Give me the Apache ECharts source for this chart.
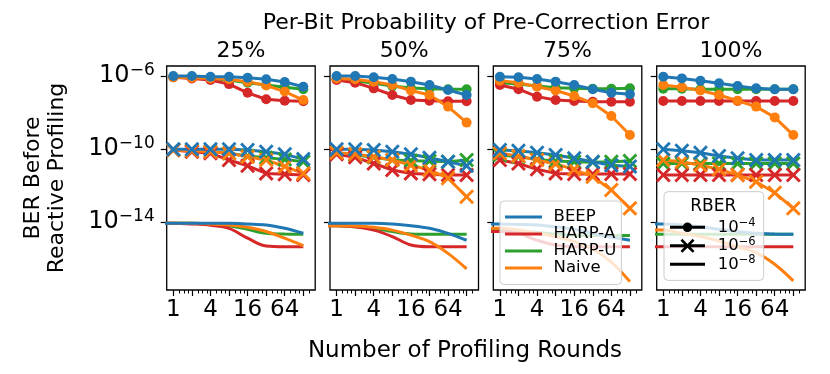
<!DOCTYPE html>
<html><head><meta charset="utf-8">
<script src="https://cdn.jsdelivr.net/npm/echarts@6/dist/echarts.min.js"></script>
<style>html,body{margin:0;padding:0;background:#fff}#c{width:830px;height:374px}</style>
</head><body><div id="c"></div>
<script>
// ---------- data ----------
const rounds = [1, 2, 4, 8, 16, 32, 64, 128];
const roundsCurve = [0.5, 1, 2, 4, 8, 16, 32, 64, 128];
const panels = ['25%', '50%', '75%', '100%'];
const methods = ['BEEP', 'HARP-A', 'HARP-U', 'Naive'];
const rberNames = ['r4', 'r6', 'r8'];
const rberExps = ['−4', '−6', '−8'];
const xMajorTicks = [1, 2, 4, 8, 16, 32, 64, 128];
const xTickLabels = [1, 4, 16, 64];
const xMinorTicks = [1.25, 1.5, 1.75, 2.5, 3, 3.5, 5, 6, 7, 10, 12, 14, 20, 24, 28, 40, 48, 56, 80, 96, 112, 160];
const yTickValues = [1e-6, 1e-10, 1e-14];
const yTickExps = ['−6', '−10', '−14'];

// 25%
const beep25_r4  = [1.0e-6, 1.0e-6, 9.2e-7, 9.2e-7, 8.1e-7, 6.6e-7, 4.7e-7, 2.6e-7];
const harpa25_r4 = [8.5e-7, 7.4e-7, 6.0e-7, 3.6e-7, 1.2e-7, 5.3e-8, 4.4e-8, 4.1e-8];
const harpu25_r4 = [8.5e-7, 8.1e-7, 7.1e-7, 6.0e-7, 4.3e-7, 3.2e-7, 2.4e-7, 1.9e-7];
const naive25_r4 = [8.5e-7, 8.1e-7, 7.4e-7, 6.6e-7, 4.9e-7, 3.0e-7, 1.4e-7, 4.8e-8];
const beep25_r6  = [9.6e-11, 9.6e-11, 9.6e-11, 9.6e-11, 8.8e-11, 7.1e-11, 5.1e-11, 2.8e-11];
const harpa25_r6 = [8.8e-11, 7.1e-11, 5.8e-11, 2.5e-11, 1.2e-11, 4.6e-12, 4.1e-12, 3.8e-12];
const harpu25_r6 = [8.8e-11, 8.1e-11, 7.1e-11, 5.8e-11, 4.1e-11, 3.3e-11, 2.7e-11, 2.0e-11];
const naive25_r6 = [8.8e-11, 8.1e-11, 7.1e-11, 5.8e-11, 3.8e-11, 2.5e-11, 1.1e-11, 4.6e-12];
const beep25_r8  = [8.5e-15, 8.5e-15, 8.5e-15, 8.5e-15, 8.5e-15, 7.8e-15, 6.9e-15, 4.5e-15, 2.4e-15];
const harpa25_r8 = [8.5e-15, 8.5e-15, 7.8e-15, 6.6e-15, 4.5e-15, 1.3e-15, 4.8e-16, 4.4e-16, 4.4e-16];
const harpu25_r8 = [8.5e-15, 8.5e-15, 8.5e-15, 7.8e-15, 6.3e-15, 4.0e-15, 2.4e-15, 2.2e-15, 2.1e-15];
const naive25_r8 = [8.5e-15, 8.5e-15, 8.5e-15, 7.8e-15, 6.9e-15, 5.1e-15, 3.0e-15, 1.3e-15, 5.0e-16];
// 50%
const beep50_r4  = [1.0e-6, 1.0e-6, 8.5e-7, 6.9e-7, 4.9e-7, 3.2e-7, 1.7e-7, 9.1e-8];
const harpa50_r4 = [6.0e-7, 4.3e-7, 2.1e-7, 9.1e-8, 4.8e-8, 4.4e-8, 4.1e-8, 4.1e-8];
const harpu50_r4 = [6.6e-7, 5.5e-7, 4.0e-7, 2.8e-7, 2.2e-7, 2.0e-7, 1.9e-7, 1.9e-7];
const naive50_r4 = [7.4e-7, 6.6e-7, 4.9e-7, 3.2e-7, 1.6e-7, 9.1e-8, 2.1e-8, 2.8e-9];
const beep50_r6  = [9.6e-11, 9.6e-11, 8.8e-11, 7.1e-11, 5.1e-11, 3.3e-11, 2.0e-11, 1.2e-11];
const harpa50_r6 = [5.1e-11, 3.5e-11, 1.6e-11, 7.1e-12, 4.6e-12, 4.1e-12, 3.8e-12, 3.8e-12];
const harpu50_r6 = [5.8e-11, 4.7e-11, 3.5e-11, 2.5e-11, 2.3e-11, 2.2e-11, 2.0e-11, 2.5e-11];
const naive50_r6 = [6.3e-11, 5.3e-11, 3.8e-11, 2.5e-11, 1.3e-11, 7.1e-12, 2.5e-12, 2.4e-13];
const beep50_r8  = [8.5e-15, 8.5e-15, 8.5e-15, 8.5e-15, 7.8e-15, 6.3e-15, 4.5e-15, 2.4e-15, 1.0e-15];
const harpa50_r8 = [6.3e-15, 6.3e-15, 5.5e-15, 3.6e-15, 1.6e-15, 5.5e-16, 4.4e-16, 4.4e-16, 4.4e-16];
const harpu50_r8 = [6.3e-15, 6.3e-15, 5.5e-15, 4.5e-15, 3.0e-15, 2.2e-15, 2.1e-15, 2.1e-15, 2.1e-15];
const naive50_r8 = [6.3e-15, 6.3e-15, 6.0e-15, 5.1e-15, 3.6e-15, 1.9e-15, 8.4e-16, 1.9e-16, 2.7e-17];
// 75%
const beep75_r4  = [9.2e-7, 8.5e-7, 6.9e-7, 4.9e-7, 3.2e-7, 1.9e-7, 1.2e-7, 9.9e-8];
const harpa75_r4 = [3.2e-7, 1.9e-7, 7.4e-8, 4.8e-8, 4.3e-8, 3.9e-8, 3.9e-8, 3.9e-8];
const harpu75_r4 = [4.3e-7, 3.6e-7, 2.8e-7, 2.3e-7, 2.1e-7, 2.0e-7, 2.0e-7, 2.1e-7];
const naive75_r4 = [5.5e-7, 4.3e-7, 2.6e-7, 1.6e-7, 8.0e-8, 3.2e-8, 6.4e-9, 5.8e-10];
const beep75_r6  = [8.8e-11, 8.1e-11, 6.3e-11, 4.7e-11, 3.1e-11, 2.0e-11, 1.3e-11, 1.1e-11];
const harpa75_r6 = [2.5e-11, 1.6e-11, 7.7e-12, 4.6e-12, 4.3e-12, 4.3e-12, 4.3e-12, 4.3e-12];
const harpu75_r6 = [4.7e-11, 3.8e-11, 2.7e-11, 2.2e-11, 2.0e-11, 1.9e-11, 2.0e-11, 2.2e-11];
const naive75_r6 = [5.8e-11, 4.1e-11, 2.5e-11, 1.5e-11, 7.7e-12, 3.0e-12, 5.7e-13, 5.6e-14];
const beep75_r8  = [7.8e-15, 7.8e-15, 7.4e-15, 6.9e-15, 5.5e-15, 4.0e-15, 2.4e-15, 1.45e-15, 1.0e-15];
const harpa75_r8 = [3.0e-15, 3.0e-15, 2.4e-15, 1.0e-15, 5.5e-16, 4.4e-16, 4.4e-16, 4.4e-16, 4.4e-16];
const harpu75_r8 = [3.6e-15, 3.6e-15, 3.2e-15, 2.7e-15, 2.2e-15, 1.9e-15, 1.8e-15, 1.8e-15, 1.8e-15];
const naive75_r8 = [4.5e-15, 4.5e-15, 3.6e-15, 2.4e-15, 1.6e-15, 8.4e-16, 3.2e-16, 6.4e-17, 5.4e-18];
// 100%
const beep100_r4  = [9.2e-7, 7.4e-7, 5.5e-7, 4.0e-7, 2.8e-7, 2.1e-7, 1.9e-7, 1.9e-7];
const harpa100_r4 = [4.3e-8, 4.3e-8, 4.3e-8, 4.3e-8, 4.3e-8, 4.3e-8, 4.3e-8, 4.3e-8];
const harpu100_r4 = [2.0e-7, 2.0e-7, 1.9e-7, 1.9e-7, 1.9e-7, 1.9e-7, 1.9e-7, 1.9e-7];
const naive100_r4 = [3.2e-7, 2.4e-7, 1.6e-7, 9.1e-8, 4.4e-8, 2.1e-8, 5.4e-9, 5.8e-10];
const beep100_r6  = [9.6e-11, 8.1e-11, 6.3e-11, 4.1e-11, 3.1e-11, 2.5e-11, 2.5e-11, 2.5e-11];
const harpa100_r6 = [3.8e-12, 3.8e-12, 3.8e-12, 3.8e-12, 3.8e-12, 3.8e-12, 3.8e-12, 3.8e-12];
const harpu100_r6 = [1.6e-11, 1.6e-11, 1.6e-11, 1.6e-11, 1.6e-11, 1.6e-11, 1.6e-11, 1.6e-11];
const naive100_r6 = [2.5e-11, 2.0e-11, 1.3e-11, 7.7e-12, 3.8e-12, 1.6e-12, 4.0e-13, 5.6e-14];
const beep100_r8  = [7.8e-15, 7.8e-15, 6.9e-15, 5.5e-15, 4.0e-15, 3.0e-15, 2.4e-15, 2.2e-15, 2.1e-15];
const harpa100_r8 = [4.4e-16, 4.4e-16, 4.4e-16, 4.4e-16, 4.4e-16, 4.4e-16, 4.4e-16, 4.4e-16, 4.4e-16];
const harpu100_r8 = [2.1e-15, 2.1e-15, 2.1e-15, 2.1e-15, 2.1e-15, 2.1e-15, 2.1e-15, 2.1e-15, 2.1e-15];
const naive100_r8 = [3.6e-15, 3.6e-15, 2.4e-15, 1.6e-15, 9.1e-16, 4.4e-16, 2.1e-16, 4.8e-17, 5.9e-18];

// ---------- assembly ----------
const DATA = {
  '25%':  { 'BEEP': [beep25_r4, beep25_r6, beep25_r8], 'HARP-A': [harpa25_r4, harpa25_r6, harpa25_r8], 'HARP-U': [harpu25_r4, harpu25_r6, harpu25_r8], 'Naive': [naive25_r4, naive25_r6, naive25_r8] },
  '50%':  { 'BEEP': [beep50_r4, beep50_r6, beep50_r8], 'HARP-A': [harpa50_r4, harpa50_r6, harpa50_r8], 'HARP-U': [harpu50_r4, harpu50_r6, harpu50_r8], 'Naive': [naive50_r4, naive50_r6, naive50_r8] },
  '75%':  { 'BEEP': [beep75_r4, beep75_r6, beep75_r8], 'HARP-A': [harpa75_r4, harpa75_r6, harpa75_r8], 'HARP-U': [harpu75_r4, harpu75_r6, harpu75_r8], 'Naive': [naive75_r4, naive75_r6, naive75_r8] },
  '100%': { 'BEEP': [beep100_r4, beep100_r6, beep100_r8], 'HARP-A': [harpa100_r4, harpa100_r6, harpa100_r8], 'HARP-U': [harpu100_r4, harpu100_r6, harpu100_r8], 'Naive': [naive100_r4, naive100_r6, naive100_r8] }
};
const COLORS = { 'BEEP': '#1f77b4', 'HARP-A': '#d62728', 'HARP-U': '#2ca02c', 'Naive': '#ff7f0e' };
const drawOrder = ['HARP-U', 'HARP-A', 'Naive', 'BEEP'];
const FONT = 'DejaVu Sans';
const X_SYMBOL = 'path://M0,1.9L1.9,0L7,5.1L12.1,0L14,1.9L8.9,7L14,12.1L12.1,14L7,8.9L1.9,14L0,12.1L5.1,7Z';
const CORNERS = 'M0,0L0.01,0L0,0.01Z M35,14L34.99,14L35,13.99Z ';
const LINE_RECT = 'M0,5.5L35,5.5L35,8.5L0,8.5Z ';
const RBER_ICONS = [
  'path://' + CORNERS + LINE_RECT + 'M12.7,7A4.8,4.8,0,1,1,22.3,7A4.8,4.8,0,1,1,12.7,7Z',
  'path://' + CORNERS + LINE_RECT + 'M10.5,1.9L12.4,0L17.5,5.1L22.6,0L24.5,1.9L19.4,7L24.5,12.1L22.6,14L17.5,8.9L12.4,14L10.5,12.1L15.6,7Z',
  'path://' + CORNERS + LINE_RECT
];

const GRID_LEFTS = [166.7, 330, 493.3, 656.7];
const GRID_W = 148.5, GRID_TOP = 66, GRID_H = 224;
const X_MIN = Math.pow(2, -0.355), X_MAX = Math.pow(2, 7.64);
const Y_MIN = Math.pow(10, -17.726), Y_MAX = Math.pow(10, -5.452);

const grids = [], xAxes = [], yAxes = [], series = [];
panels.forEach((p, gi) => {
  grids.push({ left: GRID_LEFTS[gi], top: GRID_TOP, width: GRID_W, height: GRID_H, show: true,
    borderColor: '#000', borderWidth: 1.3, backgroundColor: 'transparent', containLabel: false, outerBoundsMode: 'none' });
  xAxes.push({ gridIndex: gi, type: 'log', logBase: 2, min: X_MIN, max: X_MAX, position: 'bottom',
    axisLine: { show: false },
    axisTick: { show: true, length: 6, lineStyle: { color: '#000', width: 1.2 }, customValues: xMajorTicks },
    axisLabel: { show: true, customValues: xTickLabels, margin: 9, color: '#000', fontSize: 23, fontFamily: FONT,
      formatter: v => { let best = 0; xTickLabels.forEach((t, i) => { if (Math.abs(Math.log2(t) - Math.log2(v)) < Math.abs(Math.log2(xTickLabels[best]) - Math.log2(v))) best = i; }); return String(xTickLabels[best]); } },
    splitLine: { show: false }, minorTick: { show: false } });
  xAxes.push({ gridIndex: gi, type: 'log', logBase: 2, min: X_MIN, max: X_MAX, position: 'top', offset: -GRID_H,
    axisLine: { show: false },
    axisTick: { show: true, inside: true, length: 3.5, lineStyle: { color: '#000', width: 1 }, customValues: xMinorTicks },
    axisLabel: { show: false }, splitLine: { show: false } });
  yAxes.push({ gridIndex: gi, type: 'log', logBase: 10, min: Y_MIN, max: Y_MAX,
    axisLine: { show: false },
    axisTick: { show: true, length: 6, lineStyle: { color: '#000', width: 1.2 }, customValues: yTickValues },
    axisLabel: { show: gi === 0, customValues: yTickValues, margin: 12, color: '#000',
      formatter: v => { let best = 0; yTickValues.forEach((t, i) => { if (Math.abs(Math.log10(t) - Math.log10(v)) < Math.abs(Math.log10(yTickValues[best]) - Math.log10(v))) best = i; }); return '{b|10}{s|' + yTickExps[best] + '}'; },
      rich: { b: { fontSize: 24, fontFamily: FONT, color: '#000', lineHeight: 28 },
              s: { fontSize: 17, fontFamily: FONT, color: '#000', lineHeight: 13, verticalAlign: 'top' } } },
    splitLine: { show: false }, minorTick: { show: false } });

  drawOrder.forEach(m => {
    const arrs = DATA[p][m];
    const c = COLORS[m];
    series.push({ type: 'line', name: m, xAxisIndex: gi * 2, yAxisIndex: gi, color: c,
      data: rounds.map((x, i) => [x, arrs[0][i]]), symbol: 'circle', symbolSize: 10, showAllSymbol: true,
      lineStyle: { width: 3, color: c }, itemStyle: { color: c, borderWidth: 0 }, silent: true });
    series.push({ type: 'line', name: m, xAxisIndex: gi * 2, yAxisIndex: gi, color: c,
      data: rounds.map((x, i) => [x, arrs[1][i]]), symbol: X_SYMBOL, symbolSize: 15, showAllSymbol: true,
      lineStyle: { width: 3, color: c }, itemStyle: { color: c, borderWidth: 0 }, silent: true });
    series.push({ type: 'line', name: m, xAxisIndex: gi * 2, yAxisIndex: gi, color: c,
      data: roundsCurve.map((x, i) => [x, arrs[2][i]]), symbol: 'none', smooth: 0.35,
      lineStyle: { width: 3, color: c }, itemStyle: { color: c }, silent: true });
  });
});
// dummy series for the RBER legend
rberNames.forEach(n => series.push({ type: 'line', name: n, xAxisIndex: 6, yAxisIndex: 3, data: [], color: '#000',
  itemStyle: { color: '#000' }, lineStyle: { color: '#000', width: 3 } }));

const graphics = [
  { type: 'text', x: 486, y: 23, z: 100, style: { text: 'Per-Bit Probability of Pre-Correction Error', fontSize: 22, fontFamily: FONT, fill: '#000', align: 'center', verticalAlign: 'middle' } },
  { type: 'text', x: 465, y: 351, z: 100, style: { text: 'Number of Profiling Rounds', fontSize: 23, fontFamily: FONT, fill: '#000', align: 'center', verticalAlign: 'middle' } },
  { type: 'text', x: 45, y: 178, z: 100, rotation: Math.PI / 2, style: { text: 'BER Before\nReactive Profiling', fontSize: 22, lineHeight: 24, fontFamily: FONT, fill: '#000', align: 'center', verticalAlign: 'middle' } },
  { type: 'text', x: 713.3, y: 207, z: 100, style: { text: 'RBER', fontSize: 17, fontFamily: FONT, fill: '#000', align: 'center', verticalAlign: 'middle' } }
];
panels.forEach((p, gi) => graphics.push({ type: 'text', x: GRID_LEFTS[gi] + GRID_W / 2, y: 51, z: 100,
  style: { text: p, fontSize: 22, fontFamily: FONT, fill: '#000', align: 'center', verticalAlign: 'middle' } }));

const option = {
  animation: false,
  backgroundColor: '#fff',
  grid: grids, xAxis: xAxes, yAxis: yAxes, series: series,
  legend: [
    { orient: 'vertical', left: 500, top: 201, selectedMode: false,
      data: methods.map(m => ({ name: m, icon: 'rect' })),
      itemWidth: 37, itemHeight: 3, itemGap: 0, padding: [7.5, 5, 8, 5],
      backgroundColor: 'rgba(255,255,255,0.8)', borderColor: '#cccccc', borderWidth: 1, borderRadius: 4,
      itemStyle: { borderWidth: 0 },
      textStyle: { fontSize: 16.5, fontFamily: FONT, color: '#000', lineHeight: 17, padding: [0, 0, 0, 6.6] } },
    { orient: 'vertical', left: 664, top: 191.7, selectedMode: false,
      data: rberNames.map((n, i) => ({ name: n, icon: RBER_ICONS[i] })),
      itemWidth: 35, itemHeight: 14, itemGap: 0, padding: [25.6, 8, 7.6, 6],
      backgroundColor: 'rgba(255,255,255,0.8)', borderColor: '#cccccc', borderWidth: 1, borderRadius: 4,
      itemStyle: { borderWidth: 0 },
      formatter: name => '{b|10}{s|' + rberExps[rberNames.indexOf(name)] + '}',
      textStyle: { fontSize: 16.5, fontFamily: FONT, color: '#000', padding: [0, 0, 0, 7.7],
        rich: { b: { fontSize: 16.5, fontFamily: FONT, color: '#000', lineHeight: 20 },
                s: { fontSize: 11.5, fontFamily: FONT, color: '#000', lineHeight: 9, verticalAlign: 'top' } } } }
  ],
  graphic: graphics
};
const chart = echarts.init(document.getElementById('c'), null, { renderer: 'canvas' });
chart.setOption(option);
</script></body></html>
